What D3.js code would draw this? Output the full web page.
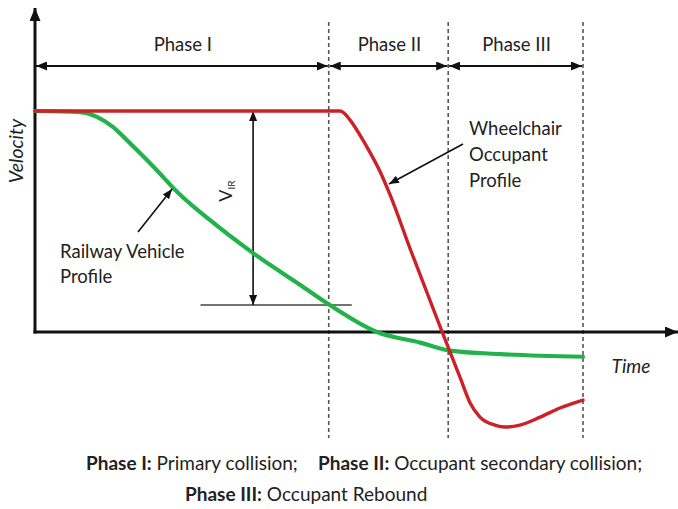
<!DOCTYPE html>
<html>
<head>
<meta charset="utf-8">
<script src="https://cdn.jsdelivr.net/npm/d3@7"></script>
<style>
  html, body { margin: 0; padding: 0; background: #fff; }
  svg { display: block; }
  text { font-family: Lato, "Open Sans", sans-serif; fill: #222; }
</style>
</head>
<body>
<svg id="chart" width="678" height="509"></svg>
<script>
// Time axis runs 0–100 (end of Phase III), velocity 0–100 (initial impact speed).
const phaseNames = ["Phase I", "Phase II", "Phase III"];
const phaseBounds = [0, 53.6, 75.4, 100];

// Railway vehicle velocity profile
const vehicleTime = [0, 8.2, 11.3, 14.2, 17.3, 23.4, 25.2, 31.9, 39.8, 48.4, 53.8, 62.4, 70.3, 75.7, 84.9, 100];
const vehicleVel  = [100, 99.5, 97.3, 92.8, 85.5, 70.1, 65.2, 50.7, 35.7, 21.3, 12.2, 0, -4.8, -8.4, -10.0, -11.2];

// Wheelchair occupant velocity profile
const occupantTime = [0, 55.7, 57.5, 59.3, 61.1, 63.0, 64.8, 68.4, 74.3, 77.6, 79.4, 81.2, 83.9, 85.8, 88.5, 92.2, 95.8, 100];
const occupantVel  = [100, 100, 95.9, 89.1, 81.4, 72.4, 62.0, 38.0, 0, -20.8, -32.1, -38.5, -42.1, -43.0, -42.1, -38.5, -34.4, -30.8];

// Relative impact velocity V_IR: from occupant speed down to vehicle speed at end of Phase I
const virTime = 39.8;
const virTop = 100, virBottom = 12.2;
const virRefSpan = [30.2, 57.8];

const svg = d3.select("#chart");
const x = d3.scaleLinear().domain([0, 100]).range([35, 583]);
const y = d3.scaleLinear().domain([0, 100]).range([332, 111]);

const RED = "#cc2127", GREEN = "#22b24c";

// arrowhead markers
const defs = svg.append("defs");
function marker(id, w, h) {
  defs.append("marker")
    .attr("id", id).attr("viewBox", `0 0 ${w} ${h}`)
    .attr("refX", w).attr("refY", h / 2)
    .attr("markerWidth", w).attr("markerHeight", h)
    .attr("markerUnits", "userSpaceOnUse")
    .attr("orient", "auto-start-reverse")
    .append("path").attr("d", `M0,0L${w},${h / 2}L0,${h}Z`).attr("fill", "#111");
}
marker("axisHead", 13, 11);
marker("head", 11, 9);
marker("thin", 10, 8);

// phase boundary dashed lines
svg.append("g").selectAll("line").data(phaseBounds.slice(1)).join("line")
  .attr("x1", d => x(d)).attr("x2", d => x(d))
  .attr("y1", 22).attr("y2", 438)
  .attr("stroke", "#555").attr("stroke-width", 1.6)
  .attr("stroke-dasharray", "4,3");

// phase span arrows and titles
const phases = phaseNames.map((n, i) => ({ name: n, t0: phaseBounds[i], t1: phaseBounds[i + 1] }));
const pg = svg.append("g");
pg.selectAll("line").data(phases).join("line")
  .attr("x1", d => x(d.t0) + 1).attr("x2", d => x(d.t1) - 1)
  .attr("y1", 66).attr("y2", 66)
  .attr("stroke", "#111").attr("stroke-width", 2)
  .attr("marker-start", "url(#head)").attr("marker-end", "url(#head)");
pg.selectAll("text").data(phases).join("text")
  .attr("x", d => (x(d.t0) + x(d.t1)) / 2 + 1).attr("y", 51)
  .attr("text-anchor", "middle").attr("font-size", 18.5)
  .text(d => d.name);

// axes
svg.append("line").attr("x1", x(0)).attr("x2", x(0)).attr("y1", y(0) + 1.5).attr("y2", 8)
  .attr("stroke", "#111").attr("stroke-width", 3).attr("marker-end", "url(#axisHead)");
svg.append("line").attr("x1", x(0) - 1.5).attr("x2", 678).attr("y1", y(0)).attr("y2", y(0))
  .attr("stroke", "#111").attr("stroke-width", 3).attr("marker-end", "url(#axisHead)");

svg.append("text").attr("transform", `translate(23,151) rotate(-90)`)
  .attr("text-anchor", "middle").attr("font-size", 19.5).attr("font-style", "italic")
  .text("Velocity");
svg.append("text").attr("x", 631).attr("y", 373)
  .attr("text-anchor", "middle").attr("font-size", 19).attr("font-style", "italic")
  .text("Time");

// V_IR reference line and double arrow
svg.append("line").attr("x1", x(virRefSpan[0])).attr("x2", x(virRefSpan[1]))
  .attr("y1", y(virBottom)).attr("y2", y(virBottom))
  .attr("stroke", "#444").attr("stroke-width", 1.4);
svg.append("line").attr("x1", x(virTime)).attr("x2", x(virTime))
  .attr("y1", y(virTop)).attr("y2", y(virBottom))
  .attr("stroke", "#111").attr("stroke-width", 1.6)
  .attr("marker-start", "url(#thin)").attr("marker-end", "url(#thin)");
const vir = svg.append("text").attr("transform", `translate(${x(virTime) - 21},191) rotate(-90)`)
  .attr("text-anchor", "middle").attr("font-size", 18);
vir.append("tspan").text("V");
vir.append("tspan").attr("font-size", 10).attr("dy", 3).text("IR");

// velocity curves
const line = d3.line().x(d => x(d[0])).y(d => y(d[1])).curve(d3.curveMonotoneX);
svg.append("path").datum(d3.zip(vehicleTime, vehicleVel))
  .attr("d", line).attr("fill", "none").attr("stroke", GREEN).attr("stroke-width", 4.2)
  .attr("stroke-linecap", "round");
svg.append("path").datum(d3.zip(occupantTime, occupantVel))
  .attr("d", line).attr("fill", "none").attr("stroke", RED).attr("stroke-width", 3.4)
  .attr("stroke-linecap", "round");

// callouts
svg.append("line").attr("x1", 138).attr("y1", 232).attr("x2", x(25.2) - 1).attr("y2", y(65.2) + 1)
  .attr("stroke", "#111").attr("stroke-width", 1.6).attr("marker-end", "url(#thin)");
const rv = svg.append("text").attr("x", 60).attr("y", 258).attr("font-size", 18.5);
rv.append("tspan").attr("x", 60).text("Railway Vehicle");
rv.append("tspan").attr("x", 60).attr("dy", 25).text("Profile");

svg.append("line").attr("x1", 463).attr("y1", 144).attr("x2", 389).attr("y2", 184)
  .attr("stroke", "#111").attr("stroke-width", 1.6).attr("marker-end", "url(#thin)");
const wo = svg.append("text").attr("x", 469).attr("y", 135).attr("font-size", 18.5);
["Wheelchair", "Occupant", "Profile"].forEach((s, i) =>
  wo.append("tspan").attr("x", 469).attr("dy", i ? 26 : 0).text(s));

// phase descriptions
const cap1 = svg.append("text").attr("x", 86).attr("y", 470).attr("font-size", 19);
cap1.append("tspan").attr("font-weight", "bold").text("Phase I:");
cap1.append("tspan").text(" Primary collision;");
cap1.append("tspan").attr("x", 318).attr("font-weight", "bold").text("Phase II:");
cap1.append("tspan").text(" Occupant secondary collision;");
const cap2 = svg.append("text").attr("x", 185).attr("y", 501).attr("font-size", 19);
cap2.append("tspan").attr("font-weight", "bold").text("Phase III:");
cap2.append("tspan").text(" Occupant Rebound");
</script>
</body>
</html>
